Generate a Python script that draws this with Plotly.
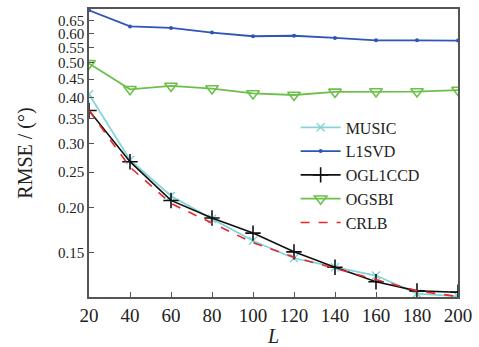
import plotly.graph_objects as go
import numpy as np

L = [20, 40, 60, 80, 100, 120, 140, 160, 180, 200]
music = [0.409, 0.270, 0.215, 0.186, 0.162, 0.145, 0.137, 0.130, 0.116, 0.114]
l1svd = [0.695, 0.628, 0.622, 0.604, 0.590, 0.592, 0.584, 0.575, 0.575, 0.574]
ogl1ccd = [0.369, 0.267, 0.209, 0.187, 0.170, 0.151, 0.137, 0.125, 0.118, 0.117]
ogsbi = [0.497, 0.422, 0.431, 0.424, 0.411, 0.407, 0.415, 0.416, 0.416, 0.420]
crlb = [0.369, 0.258, 0.205, 0.181, 0.160, 0.146, 0.136, 0.1265, 0.118, 0.1138]

ytick_vals = [0.15, 0.20, 0.25, 0.30, 0.35, 0.40, 0.45, 0.50, 0.55, 0.60, 0.65]
ytick_text = ["0.15", "0.20", "0.25", "0.30", "0.35", "0.40", "0.45", "0.50", "0.55", "0.60", "0.65"]
xtick_vals = [20, 40, 60, 80, 100, 120, 140, 160, 180, 200]

FONT = "Liberation Serif"

fig = go.Figure()
fig.add_trace(go.Scatter(x=L, y=music, name="MUSIC", mode="lines+markers",
                         line=dict(color="#86d4d8", width=1.8),
                         marker=dict(symbol="x-thin-open", size=8, line=dict(color="#86d4d8", width=1.5))))
fig.add_trace(go.Scatter(x=L, y=l1svd, name="L1SVD", mode="lines+markers",
                         line=dict(color="#2f55b8", width=1.8),
                         marker=dict(symbol="circle", size=4, color="#2f55b8")))
fig.add_trace(go.Scatter(x=L, y=ogl1ccd, name="OGL1CCD", mode="lines+markers",
                         line=dict(color="#111111", width=1.6),
                         marker=dict(symbol="cross-thin-open", size=11, line=dict(color="#111111", width=1.6))))
fig.add_trace(go.Scatter(x=L, y=ogsbi, name="OGSBI", mode="lines+markers",
                         line=dict(color="#6cc04a", width=1.8),
                         marker=dict(symbol="triangle-down-open", size=11, line=dict(color="#6cc04a", width=1.6))))
fig.add_trace(go.Scatter(x=L, y=crlb, name="CRLB", mode="lines",
                         line=dict(color="#e8262a", width=1.6, dash="dash")))

fig.update_layout(
    width=479, height=347,
    margin=dict(l=89, r=21, t=7, b=48),
    paper_bgcolor="white", plot_bgcolor="white",
    font=dict(family=FONT, size=17, color="#222222"),
    showlegend=True,
    legend=dict(x=0.56, y=0.648, xanchor="left", yanchor="top",
                bgcolor="rgba(0,0,0,0)", font=dict(family=FONT, size=16, color="#222222"),
                tracegroupgap=0, itemwidth=40),
)
fig.update_xaxes(range=[20, 200], tickvals=xtick_vals, ticks="inside", ticklen=5,
                 tickcolor="#555555", linecolor="#555555", linewidth=1.5, mirror=True,
                 showgrid=False, zeroline=False, tickfont=dict(family=FONT, size=19),
                 title=dict(text="<i>L</i>", font=dict(family=FONT, size=20), standoff=0))
fig.update_yaxes(type="log", range=[np.log10(0.1135), np.log10(0.701)],
                 tickvals=ytick_vals, ticktext=ytick_text, ticks="inside", ticklen=5,
                 tickcolor="#555555", linecolor="#555555", linewidth=1.5, mirror=True,
                 showgrid=False, zeroline=False, tickfont=dict(family=FONT, size=15),
                 title=dict(text="RMSE / (°)", font=dict(family=FONT, size=20), standoff=20))

fig.write_html("out.html")
